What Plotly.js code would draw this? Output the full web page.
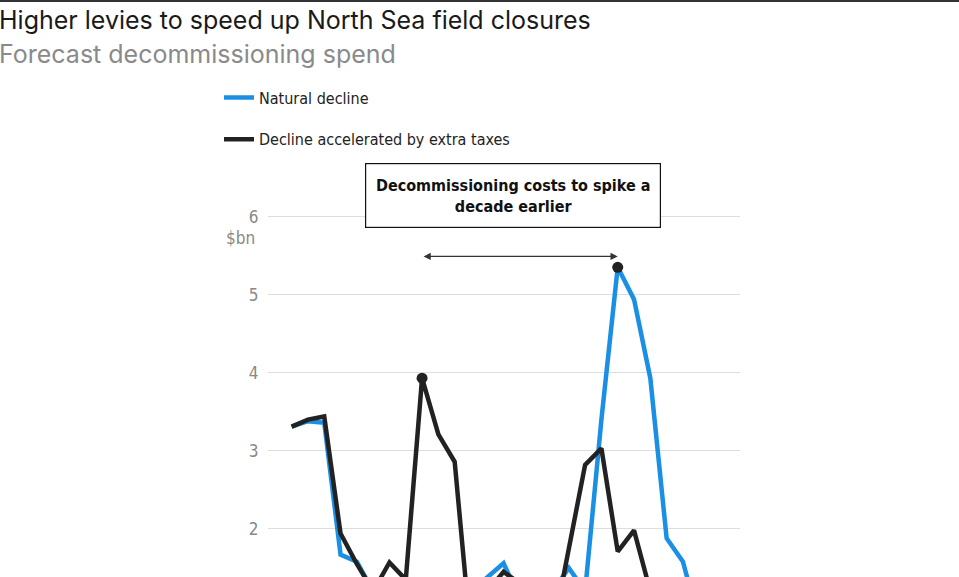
<!DOCTYPE html>
<html>
<head>
<meta charset="utf-8">
<script src="https://cdn.plot.ly/plotly-3.0.1.min.js"></script>
<style>
  html, body { margin: 0; padding: 0; overflow: hidden; background: #fff; }
  #rule { height: 2px; background: #333; width: 959px; }
  #chart { width: 959px; height: 740px; }
</style>
</head>
<body>
<div id="rule"></div>
<div id="chart"></div>
<script>
// ---- data (values below ~1.4 $bn are hidden by the crop and estimated) ----
const years = [2023,2024,2025,2026,2027,2028,2029,2030,2031,2032,2033,2034,2035,2036,2037,2038,2039,2040,2041,2042,2043,2044,2045,2046,2047,2048];
const naturalDecline = [3.31,3.38,3.36,1.67,1.58,1.20,1.10,1.00,0.90,0.90,1.00,1.20,1.38,1.56,1.10,1.05,1.20,1.50,1.20,3.40,5.35,4.94,3.93,1.88,1.58,0.80];
const acceleratedDecline = [3.31,3.40,3.44,1.94,1.55,1.20,1.57,1.35,3.93,3.21,2.86,0.60,1.20,1.45,1.30,0.90,0.67,1.75,2.82,3.03,1.71,1.98,1.20,0.70,0.50,0.40];
const seriesNames = ["Natural decline", "Decline accelerated by extra taxes"];
const yTicks = [0,1,2,3,4,5,6];
const xTicks = [2025,2030,2035,2040,2045,2050];
const titleText = "Higher levies to speed up North Sea field closures";
const subtitleText = "Forecast decommissioning spend";
const calloutText = "Decommissioning costs to spike a<br>decade earlier";
const unitLabel = "$bn";

const BLUE = "#1a8fe3";
const BLACK = "#222222";
const NARROW = "'Liberation Sans Narrow', 'DejaVu Sans Condensed', 'Roboto', sans-serif";
const HEAD = "Inter, 'Open Sans', sans-serif";

// page-pixel helpers for paper coordinates of non-data text
const PT = 199.4, PH = 483.6, PL = 268, PW = 472, TOP = 2;
const py = p => 1 + (PT - (p - TOP)) / PH;
const px = p => (p - PL) / PW;

function argmax(a) { let k = 0; a.forEach((v, i) => { if (v > a[k]) k = i; }); return k; }
const iBlack = argmax(acceleratedDecline);
const iBlue = argmax(naturalDecline);

const traces = [
  { x: years, y: naturalDecline, name: seriesNames[0], type: "scatter", mode: "lines",
    line: { color: BLUE, width: 4.5 }, legendgroup: "a", hoverinfo: "x+y" },
  { x: years, y: acceleratedDecline, name: seriesNames[1], type: "scatter", mode: "lines",
    line: { color: BLACK, width: 4.5 }, legendgroup: "b", hoverinfo: "x+y" },
  { x: [years[iBlack], years[iBlue]], y: [acceleratedDecline[iBlack], naturalDecline[iBlue]],
    type: "scatter", mode: "markers", showlegend: false,
    marker: { color: BLACK, size: 11 }, hoverinfo: "skip" }
];

const layout = {
  width: 959, height: 740,
  margin: { l: 268, r: 219, t: 199.4, b: 56.6 },
  paper_bgcolor: "#fff", plot_bgcolor: "#fff",
  font: { family: NARROW, color: "#222" },
  showlegend: true,
  legend: {
    x: px(219), xanchor: "left", y: py(81), yanchor: "top",
    orientation: "v", tracegroupgap: 18, bgcolor: "rgba(0,0,0,0)",
    font: { family: NARROW, size: 16, color: "#222" }
  },
  xaxis: {
    range: [years[0] - 1.45, years[0] + 27.5],
    showgrid: false, zeroline: false, showline: false,
    tickvals: xTicks, ticktext: xTicks.map(String),
    tickfont: { family: NARROW, size: 16, color: "#888" }
  },
  yaxis: {
    range: [0, 6.2], tickvals: yTicks, ticktext: yTicks.map(String),
    showgrid: true, gridcolor: "#dddddd", gridwidth: 1.2,
    zeroline: false, showline: false,
    ticks: "outside", ticklen: 5, tickcolor: "rgba(0,0,0,0)",
    tickfont: { family: NARROW, size: 17, color: "#888" }
  },
  annotations: [
    { text: titleText, xref: "paper", x: px(-3), xanchor: "left",
      yref: "paper", y: py(21), yanchor: "middle", showarrow: false,
      font: { family: HEAD, size: 25, color: "#1a1a1a" } },
    { text: subtitleText, xref: "paper", x: px(-3), xanchor: "left",
      yref: "paper", y: py(55), yanchor: "middle", showarrow: false,
      font: { family: HEAD, size: 25, color: "#8a8a8a" } },
    { text: unitLabel, xref: "paper", x: 0, xanchor: "right", xshift: -11,
      yref: "y", y: 5.72, yanchor: "middle", showarrow: false,
      font: { family: NARROW, size: 17, color: "#888" } },
    { text: calloutText, xref: "paper", x: px(513), xanchor: "center",
      yref: "paper", y: py(195.5), yanchor: "middle", showarrow: false,
      align: "center", borderpad: 9, width: 276, height: 45,
      bordercolor: "#111", borderwidth: 1.2, bgcolor: "#fff",
      font: { family: NARROW, size: 16, color: "#111", weight: "bold" } },
    { xref: "x", yref: "y", x: years[iBlue], y: 5.49,
      axref: "x", ayref: "y", ax: years[iBlack], ay: 5.49,
      text: "", showarrow: true, arrowside: "end+start",
      arrowhead: 2, arrowsize: 1.2, arrowwidth: 1.2, arrowcolor: "#333" }
  ]
};

Plotly.newPlot("chart", traces, layout, { displayModeBar: false, staticPlot: true });
</script>
</body>
</html>
